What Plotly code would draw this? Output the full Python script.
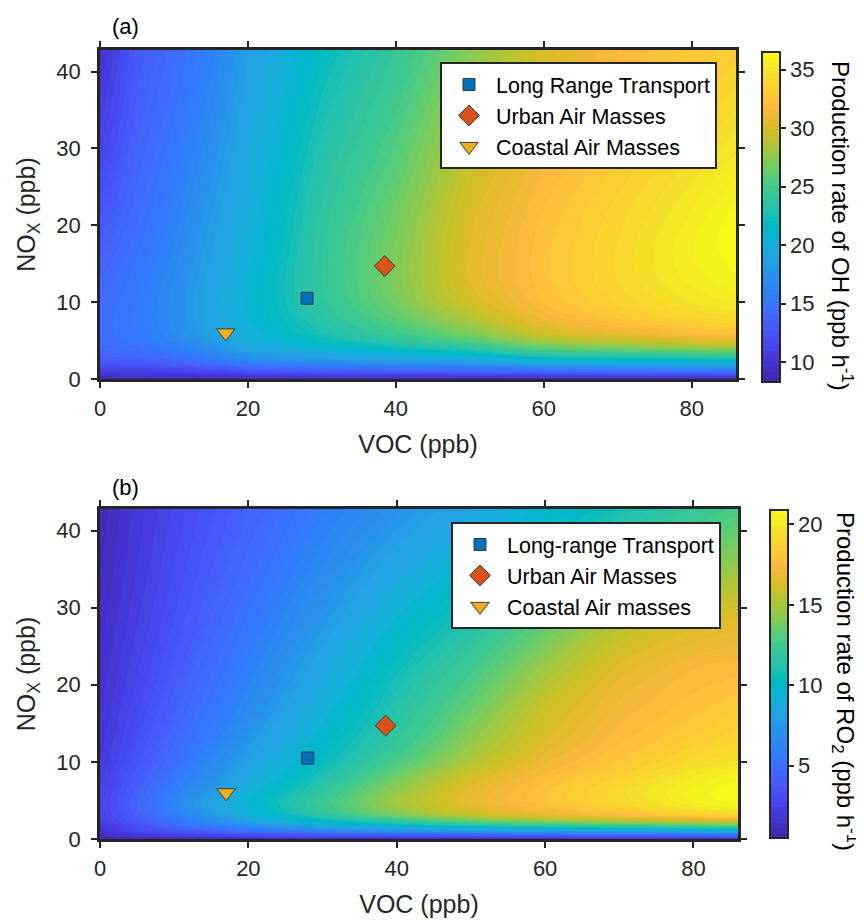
import plotly.graph_objects as go
import numpy as np

# ---------------- data ----------------
voc = [0, 5, 10, 15, 20, 30, 40, 50, 60, 70, 80, 86]
nox = [0, 0.5, 1, 2, 3, 4, 5, 6, 8, 10, 13, 17, 22, 28, 35, 43]

# P(OH) [ppb h-1]; one list per VOC column, values along nox
p_oh_cols = {
    0:  [9.0, 9.8, 10.8, 12.5, 13.6, 14.2, 14.5, 14.6, 14.6, 14.4, 14.0, 13.3, 12.5, 11.6, 10.7, 9.8],
    5:  [9.0, 10.0, 11.0, 12.8, 14.0, 14.8, 15.2, 15.4, 15.5, 15.4, 15.2, 14.8, 14.3, 13.8, 13.3, 12.8],
    10: [9.0, 10.1, 11.3, 13.3, 14.8, 15.8, 16.4, 16.7, 16.9, 16.9, 16.7, 16.3, 15.9, 15.4, 14.8, 14.3],
    15: [9.0, 10.2, 11.8, 14.2, 16.0, 17.2, 18.0, 18.6, 18.9, 19.0, 18.8, 18.4, 17.9, 17.3, 16.6, 16.0],
    20: [9.0, 10.5, 12.5, 15.5, 17.6, 19.0, 19.9, 20.2, 20.6, 20.7, 20.6, 20.2, 19.9, 19.5, 19.0, 18.4],
    30: [9.0, 10.8, 13.0, 16.5, 19.0, 20.8, 22.0, 22.8, 23.6, 24.0, 24.2, 24.1, 23.8, 23.3, 22.6, 21.8],
    40: [9.0, 11.0, 13.5, 17.2, 20.0, 22.2, 23.8, 24.8, 26.0, 26.7, 27.0, 26.9, 26.5, 25.8, 25.0, 24.2],
    50: [9.0, 11.1, 13.8, 17.8, 21.0, 23.6, 25.6, 27.0, 28.6, 29.8, 30.4, 30.4, 30.1, 29.4, 28.4, 27.2],
    60: [9.0, 11.3, 14.3, 19.0, 23.0, 26.0, 28.3, 29.8, 31.4, 32.1, 32.4, 32.4, 32.1, 31.6, 30.9, 30.0],
    70: [9.0, 11.4, 14.5, 19.4, 23.5, 26.8, 29.3, 31.0, 32.7, 33.5, 33.9, 33.9, 33.6, 33.0, 32.4, 31.6],
    80: [9.0, 11.5, 14.8, 19.8, 24.0, 27.5, 30.2, 32.0, 33.8, 34.8, 35.4, 35.6, 35.2, 34.4, 33.4, 32.6],
    86: [9.0, 11.6, 15.0, 20.0, 24.2, 27.8, 30.6, 32.4, 34.2, 35.3, 36.0, 36.4, 36.2, 35.4, 34.3, 33.2],
}

# P(RO2) [ppb h-1]
p_ro2_cols = {
    0:  [0.8, 1.2, 1.6, 2.2, 2.5, 2.6, 2.6, 2.5, 2.3, 2.1, 1.9, 1.7, 1.5, 1.3, 1.1, 0.9],
    5:  [1.0, 2.0, 2.8, 3.6, 4.1, 4.3, 4.3, 4.2, 3.9, 3.6, 3.3, 3.0, 2.7, 2.4, 2.1, 1.9],
    10: [1.0, 2.4, 3.6, 5.0, 5.8, 6.2, 6.3, 6.0, 5.5, 5.0, 4.6, 4.2, 3.8, 3.4, 3.1, 2.8],
    15: [1.1, 2.8, 4.4, 6.3, 7.4, 7.9, 8.0, 7.6, 7.0, 6.5, 5.9, 5.4, 4.9, 4.4, 4.0, 3.6],
    20: [1.2, 3.2, 5.1, 7.4, 9.0, 9.5, 9.6, 9.2, 8.5, 7.9, 7.3, 6.6, 6.0, 5.4, 4.8, 4.3],
    30: [1.3, 3.8, 6.2, 9.5, 11.5, 12.2, 12.3, 11.9, 11.1, 10.4, 9.8, 9.1, 8.3, 7.4, 6.6, 5.8],
    40: [1.4, 4.0, 6.8, 11.0, 13.7, 14.7, 14.9, 14.6, 13.8, 12.8, 11.9, 11.3, 10.6, 9.6, 8.3, 7.1],
    50: [1.5, 4.2, 7.4, 12.3, 15.5, 16.5, 16.8, 16.7, 16.1, 15.2, 14.4, 13.5, 12.5, 11.2, 9.8, 8.3],
    60: [1.5, 4.4, 7.8, 13.2, 16.6, 17.6, 18.0, 18.0, 17.6, 17.0, 16.4, 15.9, 14.8, 13.3, 11.2, 9.6],
    70: [1.6, 4.6, 8.2, 13.8, 17.5, 18.6, 19.1, 19.2, 18.7, 18.1, 17.6, 17.2, 16.6, 15.3, 12.8, 10.7],
    80: [1.6, 4.8, 8.6, 14.3, 18.3, 19.8, 20.3, 20.4, 20.0, 19.2, 18.4, 17.9, 17.4, 16.3, 14.0, 12.0],
    86: [1.7, 5.0, 9.0, 14.6, 18.8, 20.3, 20.8, 20.9, 20.5, 19.7, 18.9, 18.3, 17.6, 16.6, 14.7, 12.7],
}

site_names_a = ["Long Range Transport", "Urban Air Masses", "Coastal Air Masses"]
site_names_b = ["Long-range Transport", "Urban Air Masses", "Coastal Air masses"]
site_voc = [28, 38.5, 17]
site_nox = [10.5, 14.7, 6.0]

oh_range = [8.3, 36.5]
ro2_range = [0.5, 20.9]
oh_ticks = [10, 15, 20, 25, 30, 35]
ro2_ticks = [5, 10, 15, 20]
x_ticks = [0, 20, 40, 60, 80]
y_ticks = [0, 10, 20, 30, 40]

# ---------------- style ----------------
parula = [
    (0.2422, 0.1504, 0.6603), (0.2504, 0.1650, 0.7076), (0.2578, 0.1818, 0.7511), (0.2647, 0.1978, 0.7952),
    (0.2706, 0.2147, 0.8364), (0.2751, 0.2342, 0.8710), (0.2783, 0.2559, 0.8991), (0.2803, 0.2782, 0.9221),
    (0.2813, 0.3006, 0.9414), (0.2810, 0.3228, 0.9579), (0.2795, 0.3447, 0.9717), (0.2760, 0.3667, 0.9829),
    (0.2699, 0.3892, 0.9906), (0.2602, 0.4123, 0.9952), (0.2440, 0.4358, 0.9988), (0.2206, 0.4603, 0.9973),
    (0.1963, 0.4847, 0.9892), (0.1834, 0.5074, 0.9798), (0.1786, 0.5289, 0.9682), (0.1764, 0.5499, 0.9520),
    (0.1687, 0.5703, 0.9359), (0.1540, 0.5902, 0.9218), (0.1460, 0.6091, 0.9079), (0.1380, 0.6276, 0.8973),
    (0.1248, 0.6459, 0.8883), (0.1113, 0.6635, 0.8763), (0.0952, 0.6798, 0.8598), (0.0689, 0.6948, 0.8394),
    (0.0297, 0.7082, 0.8163), (0.0036, 0.7203, 0.7917), (0.0067, 0.7312, 0.7660), (0.0433, 0.7411, 0.7394),
    (0.0964, 0.7500, 0.7120), (0.1408, 0.7584, 0.6842), (0.1717, 0.7670, 0.6554), (0.1938, 0.7758, 0.6251),
    (0.2161, 0.7843, 0.5923), (0.2470, 0.7918, 0.5567), (0.2906, 0.7973, 0.5188), (0.3406, 0.8008, 0.4789),
    (0.3909, 0.8029, 0.4354), (0.4456, 0.8024, 0.3909), (0.5044, 0.7993, 0.3480), (0.5616, 0.7942, 0.3045),
    (0.6174, 0.7876, 0.2612), (0.6720, 0.7793, 0.2227), (0.7242, 0.7698, 0.1910), (0.7738, 0.7598, 0.1646),
    (0.8203, 0.7498, 0.1535), (0.8634, 0.7406, 0.1596), (0.9035, 0.7330, 0.1774), (0.9393, 0.7288, 0.2100),
    (0.9728, 0.7298, 0.2394), (0.9956, 0.7434, 0.2371), (0.9970, 0.7659, 0.2199), (0.9952, 0.7893, 0.2028),
    (0.9892, 0.8136, 0.1885), (0.9786, 0.8386, 0.1766), (0.9676, 0.8639, 0.1643), (0.9610, 0.8890, 0.1537),
    (0.9597, 0.9135, 0.1423), (0.9628, 0.9373, 0.1265), (0.9691, 0.9606, 0.1064), (0.9769, 0.9839, 0.0805),
]
cscale = [[i / (len(parula) - 1), "rgb(%d,%d,%d)" % (r * 255, g * 255, b * 255)] for i, (r, g, b) in enumerate(parula)]

# the page adds an 8 px body margin; the figure is sized and placed to compensate
OFF = 8
W, H = 864 - OFF, 920 - OFF
FONT = "Liberation Sans, Arial, sans-serif"
INK = "#262626"
marker_symbols = ["square", "diamond", "triangle-down"]
marker_colors = ["#0072BD", "#D95319", "#EDB120"]
marker_sizes = [12, 16, 16]


def fx(px):
    return (px - OFF) / W


def fy(py):
    return 1 - (py - OFF) / H


def zgrid(cols):
    return np.array([cols[v] for v in voc]).T


fig = go.Figure()

panels = [
    dict(z=zgrid(p_oh_cols), rng=oh_range, ticks=oh_ticks, xa="x", ya="y", legend="legend", names=site_names_a,
         cb_x=762, cb_top=52, cb_len=330, cb_title="Production rate of OH (ppb h<sup>-1</sup>)", title_x=842, title_y=226),
    dict(z=zgrid(p_ro2_cols), rng=ro2_range, ticks=ro2_ticks, xa="x2", ya="y2", legend="legend2", names=site_names_b,
         cb_x=770, cb_top=510, cb_len=328, cb_title="Production rate of RO<sub>2</sub> (ppb h<sup>-1</sup>)", title_x=845, title_y=681),
]

for p in panels:
    lo, hi = p["rng"]
    nlev = 64
    fig.add_trace(go.Contour(
        x=voc, y=nox, z=p["z"], xaxis=p["xa"], yaxis=p["ya"],
        colorscale=cscale, zmin=lo, zmax=hi, zauto=False,
        autocontour=False,
        contours=dict(start=lo, end=hi, size=(hi - lo) / nlev, coloring="fill", showlines=False),
        line=dict(width=0, smoothing=1.0),
        showlegend=False,
        colorbar=dict(
            x=fx(p["cb_x"]), xanchor="left", xref="paper",
            y=fy(p["cb_top"]), yanchor="top", len=p["cb_len"], lenmode="pixels",
            thickness=18, thicknessmode="pixels",
            outlinecolor=INK, outlinewidth=2,
            tickvals=p["ticks"], ticks="outside", ticklen=5, tickwidth=2, tickcolor=INK,
            tickfont=dict(family=FONT, size=22, color=INK),
            xpad=0, ypad=0,
        ),
    ))
    for i in range(3):
        fig.add_trace(go.Scatter(
            x=[site_voc[i]], y=[site_nox[i]], xaxis=p["xa"], yaxis=p["ya"],
            mode="markers", name=p["names"][i], legend=p["legend"],
            marker=dict(symbol=marker_symbols[i], color=marker_colors[i], size=marker_sizes[i],
                        line=dict(color="#3a3a3a", width=1)),
        ))
    fig.add_annotation(x=fx(p["title_x"]), y=fy(p["title_y"]), xref="paper", yref="paper",
                       text=p["cb_title"], textangle=90, showarrow=False,
                       font=dict(family=FONT, size=24, color="black"), xanchor="center", yanchor="middle")

axis_common = dict(
    showline=True, linecolor=INK, linewidth=2.5, mirror="ticks", automargin=False,
    ticks="outside", ticklen=6, tickwidth=2, tickcolor=INK,
    tickfont=dict(family=FONT, size=22, color=INK), showgrid=False, zeroline=False,
)
xtitle = dict(text="VOC (ppb)", font=dict(size=25, color=INK), standoff=16)
ytitle = dict(text="NO<sub>X</sub> (ppb)", font=dict(size=25, color=INK), standoff=14)
legend_common = dict(xanchor="left", yanchor="top", bgcolor="white", bordercolor=INK, borderwidth=2,
                     font=dict(family=FONT, size=21.5, color="black"), tracegroupgap=0, itemwidth=44)

fig.update_layout(
    template="none",
    width=W, height=H, margin=dict(l=0, r=0, t=0, b=0, autoexpand=False),
    paper_bgcolor="white", plot_bgcolor="white",
    font=dict(family=FONT, color=INK),
    xaxis=dict(domain=[fx(100), fx(736)], range=[0, 86], tickvals=x_ticks, anchor="y",
               ticklabelstandoff=2, title=xtitle, **axis_common),
    yaxis=dict(domain=[fy(379), fy(50)], range=[0, 42.8], tickvals=y_ticks, anchor="x",
               ticklabelstandoff=6, title=ytitle, **axis_common),
    xaxis2=dict(domain=[fx(100), fx(738)], range=[0, 86], tickvals=x_ticks, anchor="y2",
                ticklabelstandoff=2, title=xtitle, **axis_common),
    yaxis2=dict(domain=[fy(839), fy(509)], range=[0, 42.8], tickvals=y_ticks, anchor="x2",
                ticklabelstandoff=6, title=ytitle, **axis_common),
    legend=dict(x=fx(440), y=fy(62), **legend_common),
    legend2=dict(x=fx(451), y=fy(522), **legend_common),
)

fig.add_annotation(x=fx(110), y=fy(26), xref="paper", yref="paper", text="(a)", showarrow=False,
                   xanchor="left", yanchor="middle", font=dict(family=FONT, size=22, color="black"))
fig.add_annotation(x=fx(110), y=fy(487), xref="paper", yref="paper", text="(b)", showarrow=False,
                   xanchor="left", yanchor="middle", font=dict(family=FONT, size=22, color="black"))

fig.write_html("out.html")
